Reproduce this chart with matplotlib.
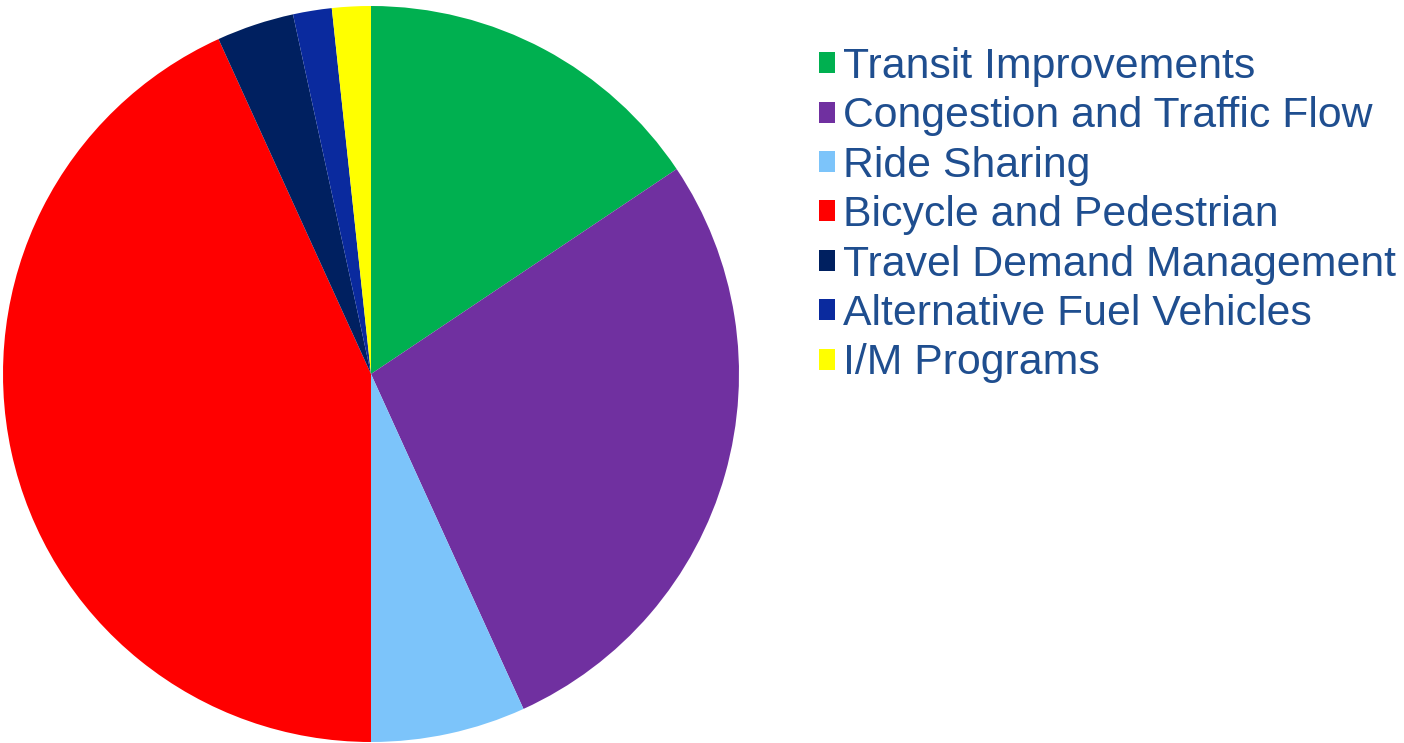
import matplotlib
matplotlib.use("Agg")
import matplotlib.pyplot as plt
from matplotlib.patches import Patch

categories = [
    "Transit Improvements",
    "Congestion and Traffic Flow",
    "Ride Sharing",
    "Bicycle and Pedestrian",
    "Travel Demand Management",
    "Alternative Fuel Vehicles",
    "I/M Programs",
]
shares = [15.6, 27.6, 6.8, 43.2, 3.4, 1.7, 1.7]
colors = ["#00B050", "#7030A0", "#7CC4FA", "#FF0000", "#002060", "#0A2A9E", "#FFFF00"]

W, H = 1404, 743
fig = plt.figure(figsize=(W / 100, H / 100), dpi=100)
fig.patch.set_facecolor("white")

cx, cy, r = 371, 374, 368
ax = fig.add_axes([(cx - r) / W, (H - cy - r) / H, 2 * r / W, 2 * r / H])
wedges, _ = ax.pie(shares, colors=colors, startangle=90, counterclock=False,
                   radius=1.0, wedgeprops=dict(linewidth=0))
ax.set_xlim(-1, 1)
ax.set_ylim(-1, 1)
ax.set_aspect("equal")
ax.axis("off")

handles = [Patch(facecolor=c, edgecolor="none") for c in colors]
leg = fig.legend(handles, categories, loc="upper left",
                 bbox_to_anchor=(819 / W, 1 - 47 / H),
                 frameon=False, prop={"family": "Liberation Sans", "size": 30.8},
                 handlelength=0.38, handleheight=0.38, handletextpad=0.18,
                 labelspacing=0.22, borderpad=0, borderaxespad=0)
for t in leg.get_texts():
    t.set_color("#1F4E8F")

fig.savefig("out.png", dpi=100)
